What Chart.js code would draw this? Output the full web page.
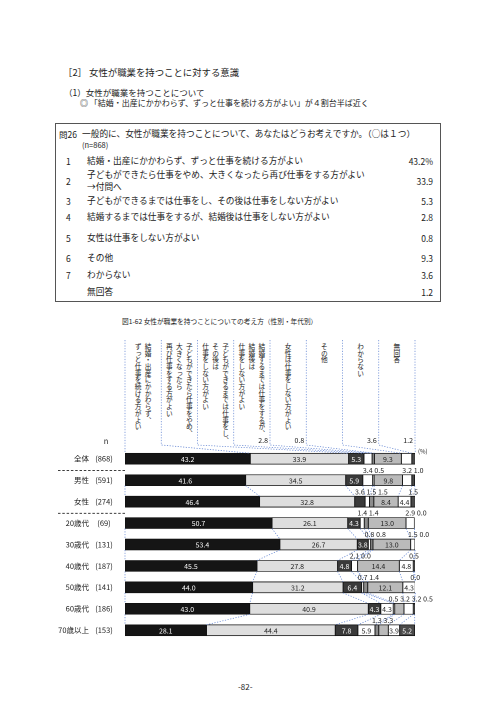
<!DOCTYPE html>
<html><head><meta charset="utf-8">
<script src="https://cdn.jsdelivr.net/npm/chart.js@4.4.1/dist/chart.umd.min.js"></script>
<style>
body{margin:0;background:#fff;width:496px;height:702px;position:relative;overflow:hidden;font-family:"Noto Sans CJK JP","Noto Sans",sans-serif;color:#222}
.t{position:absolute;white-space:nowrap;line-height:1;transform:translateY(-50%)}
#box{position:absolute;left:55px;top:123px;width:384px;height:177px;border:1px solid #555}
.hcol{position:absolute;top:343px;height:100px;display:flex;justify-content:center}
.hcol div{writing-mode:vertical-rl;font-size:6.7px;line-height:10px;white-space:nowrap}
#cv{position:absolute;left:0;top:335px}
</style></head>
<body>
<div class="t" style="left:63px;top:73px;font-size:9.4px">［2］ 女性が職業を持つことに対する意識</div>
<div class="t" style="left:64px;top:92px;font-size:8.5px">（1）女性が職業を持つことについて</div>
<div class="t" style="left:80px;top:103px;font-size:8px">◎ 「結婚・出産にかかわらず、ずっと仕事を続ける方がよい」が４割台半ば近く</div>
<div id="box"></div>
<div id="qa"></div>
<div class="t" style="left:122px;top:321px;font-size:6.7px">図1-62 女性が職業を持つことについての考え方（性別・年代別）</div>
<div id="hdr"></div>
<canvas id="cv" width="496" height="310" style="width:496px;height:310px"></canvas>
<div class="t" style="left:238px;top:687px;font-size:8px">-82-</div>
<script>
// ---- data ----
const rowLabels = ['全体','男性','女性','20歳代','30歳代','40歳代','50歳代','60歳代','70歳以上'];
const rowN = ['(868)','(591)','(274)','(69)','(131)','(187)','(141)','(186)','(153)'];
const seriesNames = [
  ['結婚・出産にかかわらず、','ずっと仕事を続ける方がよい'],
  ['子どもができたら仕事をやめ、','大きくなったら','再び仕事をする方がよい'],
  ['子どもができるまでは仕事をし、','その後は','仕事をしない方がよい'],
  ['結婚するまでは仕事をするが、','結婚後は','仕事をしない方がよい'],
  ['女性は仕事をしない方がよい'],
  ['その他'],
  ['わからない'],
  ['無回答']
];
const s1 = [43.2,41.6,46.4,50.7,53.4,45.5,44.0,43.0,28.1];
const s2 = [33.9,34.5,32.8,26.1,26.7,27.8,31.2,40.9,44.4];
const s3 = [5.3,5.9,3.6,4.3,3.8,4.8,6.4,4.3,7.8];
const s4 = [2.8,3.4,1.5,1.4,0.8,2.1,0.7,4.3,5.9];
const s5 = [0.8,0.5,1.5,1.4,0.8,0.0,1.4,0.5,1.3];
const s6 = [9.3,9.8,8.4,13.0,13.0,14.4,12.1,3.2,3.3];
const s7 = [3.6,3.2,4.4,2.9,1.5,4.8,4.3,3.2,3.9];
const s8 = [1.2,1.0,1.5,0.0,0.0,0.5,0.0,0.5,5.2];
const qNo = ['1','2','3','4','5','6','7',''];
const qText = [
  ['結婚・出産にかかわらず、ずっと仕事を続ける方がよい'],
  ['子どもができたら仕事をやめ、大きくなったら再び仕事をする方がよい','→付問へ'],
  ['子どもができるまでは仕事をし、その後は仕事をしない方がよい'],
  ['結婚するまでは仕事をするが、結婚後は仕事をしない方がよい'],
  ['女性は仕事をしない方がよい'],
  ['その他'],
  ['わからない'],
  ['無回答']
];
const qRowY = [161,181,201,217,238,258,275,292];

const seriesData = [s1,s2,s3,s4,s5,s6,s7,s8];
const fills = ['#151515','#dedede','#3a3a3a','#ffffff','#8c8c8c','#bababa','#ffffff','#4a4a4a'];
const darkText = [true,false,true,false,false,false,false,true];
const groups = [[1,2],[3,4,5,6,7,8]];

// ---- question box ----
const qa = document.getElementById('qa');
let h = '<div class="t" style="left:59px;top:134px;font-size:8.5px">問26</div>'+
 '<div class="t" style="left:82px;top:134px;font-size:8.7px">一般的に、女性が職業を持つことについて、あなたはどうお考えですか。（○は１つ）</div>'+
 '<div class="t" style="left:82px;top:145px;font-size:7.5px">(n=868)</div>';
qNo.forEach((n,i)=>{
  const y=qRowY[i];
  const v=seriesData[i][0].toFixed(1)+(i===0?'%':'');
  h+=`<div class="t" style="left:66px;top:${y}px;font-size:8.5px">${n}</div>`;
  if(qText[i].length===1){
    h+=`<div class="t" style="left:87px;top:${y}px;font-size:8.7px">${qText[i][0]}</div>`;
  }else{
    h+=`<div class="t" style="left:87px;top:${y-6}px;font-size:8.7px">${qText[i][0]}</div>`;
    h+=`<div class="t" style="left:87px;top:${y+6}px;font-size:8.7px">${qText[i][1]}</div>`;
  }
  h+=`<div class="t" style="right:${496-433}px;top:${y}px;font-size:8.5px">${v}</div>`;
});
qa.innerHTML=h;

// ---- header columns ----
const hdr=document.getElementById('hdr');
const colL=125, colR=415, colW=(colR-colL)/seriesNames.length;
let hh='';
seriesNames.forEach((lines,k)=>{
  hh+=`<div class="hcol" style="left:${colL+k*colW}px;width:${colW}px"><div>${lines.join('<br>')}</div></div>`;
});
hdr.innerHTML=hh;

// ---- chart ----
const FONT='"Noto Sans CJK JP","Noto Sans",sans-serif';
const deco={
 id:'deco',
 afterDatasetsDraw(chart){
  const ctx=chart.ctx, ca=chart.chartArea;
  const nD=chart.data.datasets.length;
  const metas=[];for(let i=0;i<nD;i++)metas.push(chart.getDatasetMeta(i));
  const bar=(d,r)=>metas[d].data[r];
  const bx=(r,k)=>k===0?bar(0,r).base:bar(k-1,r).x;
  const by=r=>bar(0,r).y;
  const bh=bar(0,0).height;
  ctx.save();
  // connectors between rows
  ctx.strokeStyle='#5b7fd0';ctx.lineWidth=0.7;ctx.setLineDash([1.2,1.5]);
  groups.forEach(g=>{for(let i=0;i<g.length-1;i++){const a=g[i],b=g[i+1];
    for(let k=0;k<=nD;k++){ctx.beginPath();ctx.moveTo(bx(a,k),by(a)+bh/2);ctx.lineTo(bx(b,k),by(b)-bh/2);ctx.stroke();}}});
  // header lines
  const cw=(ca.right-ca.left)/nD;
  const hTop=5,hBot=110;
  for(let k=0;k<=nD;k++){
    const x=ca.left+k*cw;
    ctx.beginPath();ctx.moveTo(x,hTop);ctx.lineTo(x,hBot);ctx.lineTo(bx(0,k),by(0)-bh/2);ctx.stroke();
  }
  ctx.setLineDash([]);
  // separators
  ctx.strokeStyle='#222';ctx.lineWidth=0.8;ctx.setLineDash([2.5,1.8]);
  [[0,1],[2,3]].forEach(([a,b])=>{const y=(by(a)+by(b))/2+1;ctx.beginPath();ctx.moveTo(58,y);ctx.lineTo(ca.left,y);ctx.stroke();});
  ctx.setLineDash([]);
  // row labels
  ctx.fillStyle='#222';ctx.font='7.5px '+FONT;ctx.textBaseline='middle';
  rowLabels.forEach((l,r)=>{ctx.textAlign='right';ctx.fillText(l,89,by(r));ctx.textAlign='center';ctx.fillText(rowN[r],104,by(r));});
  ctx.textAlign='center';ctx.fillText('n',106,106);
  ctx.font='6px '+FONT;ctx.textAlign='left';ctx.fillText('(%)',418,116);
  // inside labels
  ctx.font='7px '+FONT;
  const TH=3.7;
  for(let r=0;r<rowLabels.length;r++){
    const small=[];
    for(let d=0;d<nD;d++){
      const v=seriesData[d][r], b=bar(d,r);
      if(v>=TH){
        ctx.fillStyle=darkText[d]?'#fff':'#222';ctx.textAlign='center';ctx.textBaseline='middle';
        ctx.fillText(v.toFixed(1),(b.x+b.base)/2,b.y+0.5);
      }else small.push({d,v,cx:(b.x+b.base)/2});
    }
    ctx.fillStyle='#222';ctx.textBaseline='bottom';
    if(r===0){
      small.forEach(s=>{ctx.textAlign='right';ctx.fillText(s.v.toFixed(1),ca.left+(s.d+1)*cw-2,hBot-1);});
    }else{
      let prev=-1e9;const pos=[];
      small.forEach(s=>{const x=Math.max(s.cx,prev+11.5);pos.push(x);prev=x;});
      const over=pos.length?pos[pos.length-1]-428:0;
      if(over>0)for(let i=0;i<pos.length;i++)pos[i]-=over;
      small.forEach((s,i)=>{ctx.textAlign='center';ctx.fillText(s.v.toFixed(1),pos[i],by(r)-bh/2-1);});
    }
  }
  ctx.restore();
 }
};
new Chart(document.getElementById('cv'),{
  type:'bar',
  data:{labels:rowLabels,datasets:seriesData.map((s,i)=>({label:seriesNames[i].join(''),data:s,backgroundColor:fills[i],borderColor:'#111',borderWidth:0.8,borderSkipped:false,barThickness:11}))},
  options:{indexAxis:'y',responsive:false,animation:false,devicePixelRatio:2,
    layout:{padding:{left:125,right:81,top:113,bottom:4}},
    plugins:{legend:{display:false},tooltip:{enabled:false}},
    scales:{x:{stacked:true,min:0,max:100,display:false},y:{stacked:true,display:false}}},
  plugins:[deco]
});
</script>
</body></html>
